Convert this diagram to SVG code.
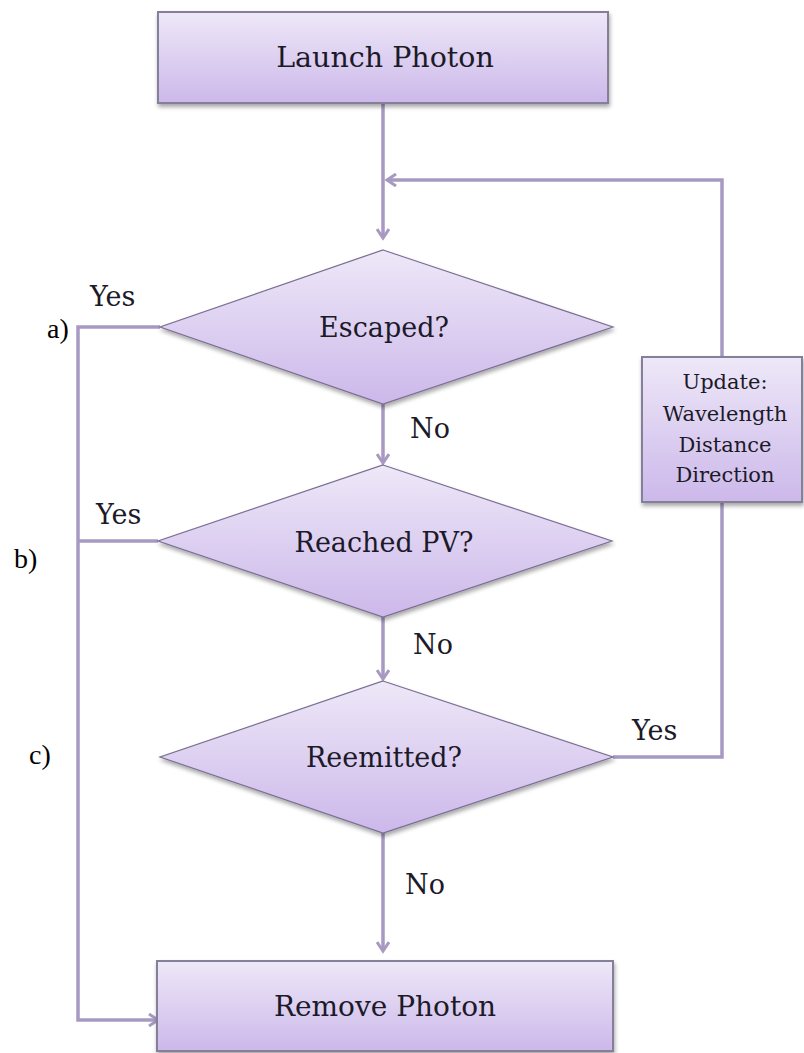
<svg xmlns="http://www.w3.org/2000/svg" width="804" height="1053" viewBox="0 0 804 1053">
<style>
.node{font-family:"DejaVu Serif","Liberation Serif",serif;fill:#1c1a28;text-anchor:middle}
.lbl{font-family:"DejaVu Serif","Liberation Serif",serif;fill:#1c1a28;font-size:27px}
.tag{font-family:"Liberation Serif",serif;fill:#000;font-size:28px}
.box{fill:url(#g);stroke:#85809a;stroke-width:2}
.dia{fill:url(#g);stroke:#7a6e92;stroke-width:1.2}
.con{fill:none;stroke:#a799c2;stroke-width:3.5}
</style>
<defs>
<linearGradient id="g" x1="0" y1="0" x2="0" y2="1">
<stop offset="0" stop-color="#eee8f8"/>
<stop offset="1" stop-color="#ccb8ea"/>
</linearGradient>
<filter id="sh" x="-10%" y="-10%" width="120%" height="130%">
<feGaussianBlur in="SourceAlpha" stdDeviation="2"/>
<feOffset dx="1" dy="3"/>
<feComponentTransfer><feFuncA type="linear" slope="0.35"/></feComponentTransfer>
<feMerge><feMergeNode/><feMergeNode in="SourceGraphic"/></feMerge>
</filter>
<marker id="ar" markerWidth="14" markerHeight="14" refX="11" refY="7" orient="auto" markerUnits="userSpaceOnUse">
<path d="M2,1 L11,7 L2,13" fill="none" stroke="#a799c2" stroke-width="3"/>
</marker>
</defs>
<rect width="804" height="1053" fill="#fff"/>
<g id="connectors">
<line class="con" x1="383" y1="104" x2="383" y2="238" marker-end="url(#ar)"/>
<polyline class="con" points="613,757 722,757 722,180 387,180" marker-end="url(#ar)"/>
<line class="con" x1="383" y1="404" x2="383" y2="463" marker-end="url(#ar)"/>
<line class="con" x1="383" y1="617" x2="383" y2="679" marker-end="url(#ar)"/>
<line class="con" x1="383" y1="833" x2="383" y2="951" marker-end="url(#ar)"/>
<polyline class="con" points="160,327 78,327 78,1020 158,1020" marker-end="url(#ar)"/>
<line class="con" x1="158" y1="541" x2="78" y2="541"/>
<text class="lbl" x="90" y="306">Yes</text>
<text class="lbl" x="96" y="524">Yes</text>
<text class="lbl" x="632" y="740">Yes</text>
<text class="lbl" x="410" y="438">No</text>
<text class="lbl" x="413" y="654">No</text>
<text class="lbl" x="405" y="894">No</text>
</g>
<g id="launch">
<rect class="box" x="158" y="12" width="450" height="91" filter="url(#sh)"/>
<text class="node" x="385" y="67" font-size="28.5">Launch Photon</text>
</g>
<g id="escaped">
<polygon class="dia" points="383,250 613,327 383,404 160,327" filter="url(#sh)"/>
<text class="node" x="384" y="337" font-size="27">Escaped?</text>
</g>
<g id="reached">
<polygon class="dia" points="383,465 612,541 383,617 158,541" filter="url(#sh)"/>
<text class="node" x="384" y="552" font-size="27">Reached PV?</text>
</g>
<g id="reemitted">
<polygon class="dia" points="383,681 613,757 383,833 160,757" filter="url(#sh)"/>
<text class="node" x="384" y="767" font-size="27">Reemitted?</text>
</g>
<g id="update">
<rect class="box" x="642" y="357" width="160" height="145" filter="url(#sh)"/>
<text class="node" x="725" y="389" font-size="21">Update:</text>
<text class="node" x="725" y="421" font-size="21">Wavelength</text>
<text class="node" x="725" y="452" font-size="21">Distance</text>
<text class="node" x="725" y="482" font-size="21">Direction</text>
</g>
<g id="remove">
<rect class="box" x="157" y="961" width="456" height="90" filter="url(#sh)"/>
<text class="node" x="385" y="1016" font-size="28">Remove Photon</text>
</g>
<g id="tags">
<text class="tag" x="47" y="338">a)</text>
<text class="tag" x="14" y="568">b)</text>
<text class="tag" x="29" y="764">c)</text>
</g>
</svg>
